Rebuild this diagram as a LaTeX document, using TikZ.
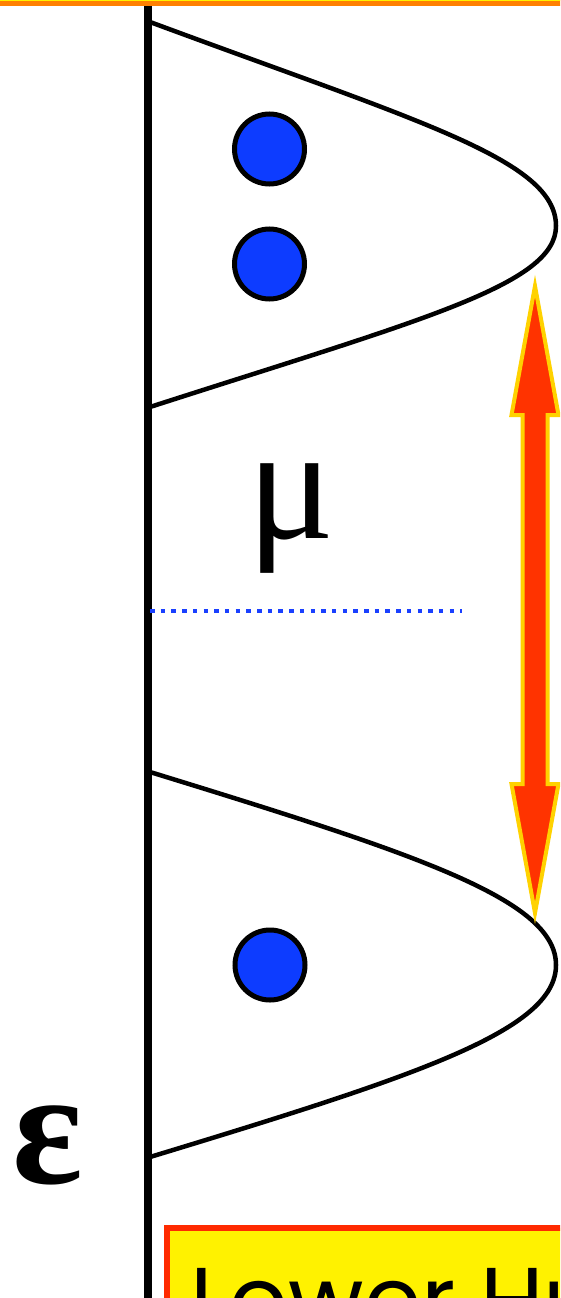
\documentclass[tikz,border=0pt]{standalone}
\usepackage{fontspec}
\usepackage{xcolor}
\usetikzlibrary{positioning, calc}

\newfontfamily\greekfont{Liberation Serif}
\newfontfamily\bannerfont{Poppins}

\definecolor{dotblue}{HTML}{0D3CFF}
\definecolor{levelblue}{HTML}{1A40FF}
\definecolor{gapred}{HTML}{FF3300}
\definecolor{gapgold}{HTML}{FFD200}
\definecolor{framered}{HTML}{FF2A00}
\definecolor{frameorange}{HTML}{FF8000}

\begin{document}
\begin{tikzpicture}[x=1pt, y=-1pt,
        axis/.style={line width=8pt, black},
        band/.style={line width=4.5pt, black},
        electron/.style={circle, draw=black, line width=5pt, fill=dotblue, minimum size=70pt, inner sep=0pt},
        level/.style={levelblue, line width=4.5pt, dash pattern=on 4.5pt off 6.2pt},
        gaparrow/.style={draw=gapgold, fill=gapred, line width=4pt},
        sym/.style={inner sep=0pt, font=\greekfont\fontsize{163}{163}\selectfont},
        banner/.style={draw=framered, fill=yellow, line width=6pt},
        bannertext/.style={inner sep=0pt, font=\bannerfont\fontsize{92}{92}\selectfont}
    ]
        \useasboundingbox (0,0) rectangle (560,1298);
        \clip (0,0) rectangle (560,1298);

        % frame above
        \fill[frameorange] (-10,-10) rectangle (570,6.5);
        \fill[yellow] (-10,-10) rectangle (570,1.3);

        % energy axis
        \coordinate (axtop) at (147.5,6);
        \coordinate (axbot) at (147.5,1298);
        \draw[axis] (axtop) -- (axbot);

        % upper band
        \draw[band] (150,22) .. controls (420,122) and (556,160) .. (556,226)
            .. controls (556,285) and (420,320) .. (150,407);
        % lower band
        \draw[band] (150,772) .. controls (420,855) and (556,900) .. (556,965)
            .. controls (556,1030) and (420,1075) .. (150,1157);

        % electrons
        \node[electron] (e1) at (269.5,149) {};
        \node[electron] (e2) at (269.5,264) {};
        \node[electron] (e3) at (270,965) {};

        % chemical potential
        \node[sym, anchor=north] (mu) at (291,463) {μ};
        \coordinate (lvlL) at (150,611);
        \coordinate (lvlR) at (462,611);
        \draw[level] (lvlL) -- (lvlR);

        % gap
        \draw[gaparrow] (535,286) -- (558.5,415) -- (547.5,415) -- (547.5,784)
            -- (558.5,784) -- (535,913) -- (511.5,784) -- (522.5,784)
            -- (522.5,415) -- (511.5,415) -- cycle;

        % energy label
        \node[sym, font=\greekfont\bfseries\fontsize{165}{165}\selectfont, anchor=north] (eps) at (47.5,1106) {ε};

        % banner below
        \draw[banner] (167,1228) rectangle (700,1400);
        \node[bannertext, anchor=north west] (lower) at (190,1268) {Lower Hu};
\end{tikzpicture}
\end{document}
